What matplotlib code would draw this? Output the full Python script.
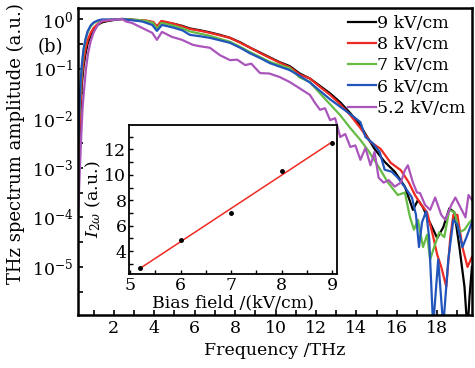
import numpy as np
import matplotlib
matplotlib.use("Agg")
import matplotlib.pyplot as plt
from matplotlib.ticker import MultipleLocator, NullFormatter, LogFormatterMathtext

plt.rcParams["font.family"] = ["DejaVu Serif"]
plt.rcParams["mathtext.fontset"] = "dejavuserif"

# THz spectra, frequency in THz and log10 of normalised amplitude
freq_9 = [0.22, 0.28, 0.35, 0.42, 0.5, 0.6, 0.7, 0.85, 1.0, 1.2, 1.4, 1.7, 2.0, 2.4, 2.8,
          3.2, 3.6, 3.95, 4.13, 4.35, 4.6, 5.0, 5.4, 5.76, 6.3, 6.75, 7.25, 7.75, 8.25,
          8.75, 9.25, 9.75, 10.2, 10.7, 11.2, 11.7, 12.2, 12.7, 13.2, 13.7, 14.2, 14.45,
          14.9, 15.4, 15.9, 16.4, 16.8, 17.05, 17.3, 17.5, 17.75, 18.0, 18.3, 18.6, 18.85,
          19.1, 19.35, 19.5, 19.6, 19.72]
amp_9 = [-3.4, -2.6, -1.9, -1.3, -0.95, -0.7, -0.5, -0.33, -0.22, -0.12, -0.07, -0.04, -0.02,
         0.0, -0.01, -0.03, -0.04, -0.07, -0.16, -0.05, -0.07, -0.1, -0.14, -0.19, -0.23,
         -0.27, -0.32, -0.38, -0.47, -0.58, -0.68, -0.78, -0.87, -0.95, -1.1, -1.2, -1.35,
         -1.5, -1.68, -1.9, -2.15, -2.32, -2.62, -2.88, -3.08, -3.38, -3.85, -3.65, -3.8,
         -3.99, -4.2, -4.42, -4.2, -3.82, -3.9, -4.6, -5.4, -6.3, -5.6, -5.0]

freq_8 = [0.22, 0.28, 0.35, 0.42, 0.5, 0.6, 0.7, 0.85, 1.0, 1.2, 1.4, 1.7, 2.0, 2.4, 2.8,
          3.2, 3.6, 3.95, 4.13, 4.35, 4.6, 5.0, 5.4, 5.76, 6.3, 6.75, 7.25, 7.75, 8.25,
          8.75, 9.25, 9.75, 10.2, 10.7, 11.2, 11.7, 12.2, 12.7, 13.2, 13.7, 14.2, 14.7,
          15.2, 15.7, 16.2, 16.6, 16.9, 17.15, 17.5, 17.75, 18.0, 18.2, 18.45, 18.65, 18.8,
          19.0, 19.25, 19.5, 19.72]
amp_8 = [-3.2, -2.4, -1.7, -1.15, -0.85, -0.6, -0.43, -0.28, -0.18, -0.1, -0.05, -0.03,
         -0.01, 0.0, -0.01, -0.02, -0.03, -0.06, -0.15, -0.04, -0.06, -0.1, -0.15, -0.2,
         -0.24, -0.28, -0.33, -0.38, -0.48, -0.58, -0.69, -0.79, -0.88, -0.97, -1.12, -1.2,
         -1.37, -1.53, -1.72, -1.94, -2.2, -2.48, -2.62, -2.9, -3.05, -3.3, -3.55, -3.71,
         -3.9, -4.3, -4.75, -5.0, -5.4, -4.4, -3.95, -3.95, -4.6, -5.0, -4.8]

freq_7 = [0.22, 0.28, 0.35, 0.42, 0.5, 0.6, 0.7, 0.85, 1.0, 1.2, 1.5, 2.0, 2.4, 2.8, 3.2,
          3.6, 3.95, 4.13, 4.35, 4.6, 5.0, 5.4, 5.76, 6.3, 6.75, 7.25, 7.75, 8.25, 8.75,
          9.25, 9.75, 10.2, 10.7, 11.2, 11.7, 12.2, 12.7, 13.2, 13.7, 14.2, 14.6, 15.1,
          15.55, 16.05, 16.4, 16.65, 16.85, 17.05, 17.3, 17.5, 17.65, 17.85, 18.1, 18.35,
          18.6, 18.85, 19.1, 19.35, 19.6, 19.72]
amp_7 = [-2.9, -2.0, -1.4, -0.95, -0.65, -0.42, -0.27, -0.15, -0.08, -0.04, -0.02, -0.01,
         0.0, -0.01, -0.02, -0.04, -0.08, -0.2, -0.08, -0.1, -0.14, -0.19, -0.25, -0.3,
         -0.34, -0.4, -0.46, -0.56, -0.67, -0.77, -0.87, -0.93, -0.99, -1.18, -1.27, -1.5,
         -1.72, -1.94, -2.2, -2.44, -2.66, -2.98, -3.29, -3.55, -3.5, -3.99, -4.25, -4.05,
         -4.6, -4.35, -4.85, -4.6, -4.3, -4.4, -3.85, -3.9, -4.3, -4.25, -4.1, -4.05]

freq_6 = [0.22, 0.28, 0.35, 0.42, 0.5, 0.6, 0.7, 0.85, 1.0, 1.2, 1.4, 2.0, 2.4, 2.8, 3.4,
          3.9, 4.13, 4.38, 4.7, 5.0, 5.4, 5.76, 6.3, 6.75, 7.25, 7.74, 8.25, 8.73, 9.25,
          9.72, 10.2, 10.7, 11.2, 11.7, 12.2, 12.7, 13.2, 13.7, 14.2, 14.45, 14.8, 15.15,
          15.4, 15.75, 16.05, 16.4, 16.75, 16.95, 17.1, 17.25, 17.45, 17.6, 17.8, 18.05,
          18.3, 18.55, 18.8, 19.0, 19.25, 19.45, 19.72]
amp_6 = [-2.8, -1.9, -1.3, -0.9, -0.6, -0.4, -0.25, -0.13, -0.07, -0.03, -0.01, -0.01, 0.0,
         -0.02, -0.05, -0.12, -0.24, -0.12, -0.15, -0.18, -0.23, -0.32, -0.35, -0.38, -0.43,
         -0.48, -0.58, -0.69, -0.79, -0.89, -0.96, -1.03, -1.15, -1.28, -1.45, -1.62,
         -1.77, -1.92, -2.08, -2.38, -2.5, -2.68, -3.04, -3.08, -3.2, -3.39, -3.6, -3.95,
         -4.6, -4.1, -3.88, -4.4, -6.2, -4.85, -6.2, -4.85, -4.05, -4.15, -4.6, -4.4, -4.1]

freq_52 = [0.22, 0.3, 0.38, 0.45, 0.52, 0.62, 0.72, 0.85, 1.0, 1.2, 1.4, 1.8, 2.4, 2.6, 2.9,
           3.4, 3.9, 4.13, 4.38, 4.87, 5.37, 5.9, 6.26, 6.75, 7.25, 7.75, 8.1, 8.5, 8.8,
           9.23, 9.7, 10.2, 10.7, 11.2, 11.7, 11.95, 12.2, 12.45, 12.7, 12.95, 13.2, 13.45,
           13.7, 13.95, 14.2, 14.45, 14.7, 14.9, 15.1, 15.35, 15.6, 15.9, 16.2, 16.4, 16.55,
           16.8, 17.0, 17.15, 17.4, 17.65, 17.9, 18.2, 18.4, 18.7, 18.9, 19.15, 19.4, 19.55,
           19.72]
amp_52 = [-4.1, -3.2, -2.4, -1.8, -1.45, -1.0, -0.7, -0.45, -0.27, -0.12, -0.04, -0.02, 0.0,
          -0.05, -0.08, -0.18, -0.28, -0.42, -0.26, -0.36, -0.42, -0.52, -0.55, -0.58, -0.73,
          -0.83, -0.82, -0.93, -0.9, -1.09, -1.1, -1.17, -1.27, -1.4, -1.53, -1.69, -1.83,
          -1.8, -2.04, -2.0, -2.38, -2.32, -2.58, -2.55, -2.84, -2.6, -2.95, -2.68, -3.2,
          -3.3, -3.25, -3.38, -3.3, -3.05, -2.95, -3.3, -3.5, -3.51, -3.75, -3.85, -3.6,
          -3.95, -4.05, -3.75, -3.6, -3.8, -4.0, -3.55, -3.65]

# inset: second harmonic intensity vs bias field
bias_field = [5.2, 6.0, 7.0, 8.0, 9.0]
i_2w = [2.7, 4.85, 7.0, 10.3, 12.5]

decades = [0, -1, -2, -3, -4, -5]

series = [
    ("9 kV/cm", freq_9, amp_9, "#000000"),
    ("8 kV/cm", freq_8, amp_8, "#ee2a22"),
    ("7 kV/cm", freq_7, amp_7, "#66bb44"),
    ("6 kV/cm", freq_6, amp_6, "#2255bb"),
    ("5.2 kV/cm", freq_52, amp_52, "#aa55bb"),
]


def plot_spectra(fig):
    ax = fig.add_axes([0.164, 0.144, 0.830, 0.834])
    for label, f, a, color in series:
        ax.plot(f, 10 ** np.array(a), color=color, lw=1.6, label=label)
    ax.set_yscale("log")
    ax.set_xlim(0.22, 19.73)
    ax.set_ylim(10 ** -5.97, 10 ** 0.22)

    ax.xaxis.set_major_locator(MultipleLocator(2))
    ax.xaxis.set_minor_locator(MultipleLocator(1))
    ax.set_yticks([10.0 ** d for d in decades])
    ax.set_yticks([10.0 ** (d - 0.5) for d in decades], minor=True)
    ax.yaxis.set_major_formatter(LogFormatterMathtext())
    ax.yaxis.set_minor_formatter(NullFormatter())
    ax.tick_params(which="both", direction="in", top=False, right=False,
                   length=3.5, width=1.2, labelsize=12.5)
    for s in ax.spines.values():
        s.set_linewidth(1.8)

    ax.set_xlabel("Frequency /THz", fontsize=12.5, labelpad=4)
    ax.set_ylabel("THz spectrum amplitude (a.u.)", fontsize=13, labelpad=2)
    ax.yaxis.set_label_coords(-0.135, 0.56)

    leg = ax.legend(loc="upper right", bbox_to_anchor=(1.0, 1.0), frameon=False,
                    fontsize=12.5, handlelength=1.6, handletextpad=0.05,
                    labelspacing=0.24, borderpad=0.3, borderaxespad=0.1)
    for line in leg.get_lines():
        line.set_linewidth(1.6)
    return ax


def plot_inset(fig):
    ax = fig.add_axes([0.272, 0.255, 0.438, 0.405])
    slope, offset = np.polyfit(bias_field, i_2w, 1)
    xs = np.array([bias_field[0], bias_field[-1]])
    ax.plot(xs, slope * xs + offset, color="#ee2a22", lw=1.1)
    ax.plot(bias_field, i_2w, "o", color="black", ms=2.5)
    ax.set_xlim(4.98, 9.1)
    ax.set_ylim(2.2, 13.9)
    ax.xaxis.set_major_locator(MultipleLocator(1))
    ax.xaxis.set_minor_locator(MultipleLocator(0.5))
    ax.yaxis.set_major_locator(MultipleLocator(2))
    ax.yaxis.set_minor_locator(MultipleLocator(1))
    ax.tick_params(which="both", direction="in", top=False, right=False,
                   length=3, width=1.0, labelsize=12.5, pad=2)
    for s in ax.spines.values():
        s.set_linewidth(1.3)
    ax.set_xlabel("Bias field /(kV/cm)", fontsize=12.5, labelpad=0)
    ax.set_ylabel(r"$I_{2\omega}$ (a.u.)", fontsize=12.5, labelpad=1)
    return ax


if __name__ == "__main__":
    fig = plt.figure(figsize=(4.75, 3.68), dpi=100)
    plot_spectra(fig)
    plot_inset(fig)
    fig.text(0.08, 0.872, "(b)", fontsize=13, ha="left", va="center")
    fig.savefig("out.png", dpi=100)
